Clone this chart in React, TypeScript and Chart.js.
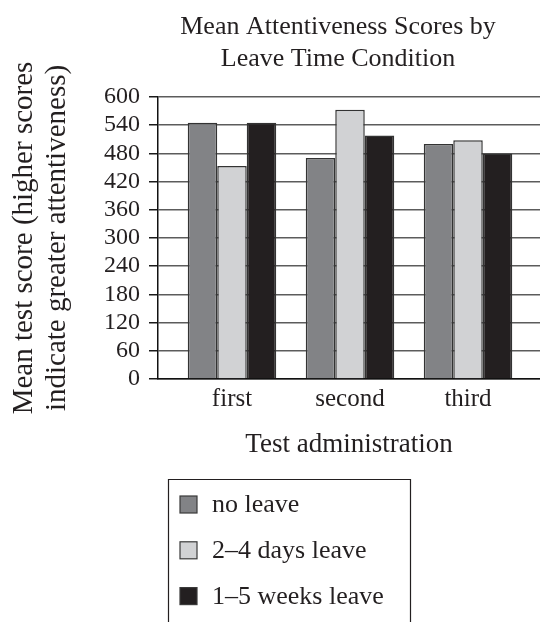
import { useEffect, useRef } from "react";
import { Chart, registerables } from "chart.js";

Chart.register(...registerables);

// ---- data ----
const categories = ["first", "second", "third"];
const seriesLabels = ["no leave", "2–4 days leave", "1–5 weeks leave"];
const noLeave = [545, 470, 500];
const days2to4 = [453, 573, 508];
const weeks1to5 = [545, 518, 480];
const yTickMin = 0;
const yTickMax = 600;
const yTickStep = 60;
const titleLines = ["Mean Attentiveness Scores by", "Leave Time Condition"];
const yTitleLines = ["Mean test score (higher scores", "indicate greater attentiveness)"];
const xTitle = "Test administration";

// ---- styles ----
const FONT = "'Liberation Serif', 'Times New Roman', serif";
const fills = ["#828386", "#d1d2d4", "#231f20"];
const TEXT = "#231f20";

// shift the title block so it is centred like the reference (slightly left of the plot centre)
const titleShift = {
  id: "titleShift",
  afterLayout(chart: any) {
    if (chart.titleBlock) chart.titleBlock.left = chart.chartArea.left - 22;
  },
};

const boxLegend = {
  id: "boxLegend",
  afterDraw(chart: any) {
    const { ctx } = chart;
    const left = 168.5;
    const top = 479.5;
    const right = 410.5;
    ctx.save();
    ctx.strokeStyle = "#231f20";
    ctx.lineWidth = 1.2;
    ctx.beginPath();
    ctx.moveTo(left, chart.height + 5);
    ctx.lineTo(left, top);
    ctx.lineTo(right, top);
    ctx.lineTo(right, chart.height + 5);
    ctx.stroke();
    ctx.font = `26px ${FONT}`;
    ctx.textBaseline = "middle";
    ctx.textAlign = "left";
    chart.data.datasets.forEach((ds: any, i: number) => {
      const cy = 504.5 + i * 45.8;
      ctx.fillStyle = ds.backgroundColor;
      ctx.fillRect(180, cy - 8.5, 17, 17);
      ctx.strokeStyle = "#3a3a3a";
      ctx.lineWidth = 1.2;
      ctx.strokeRect(180, cy - 8.5, 17, 17);
      ctx.fillStyle = TEXT;
      ctx.fillText(ds.label, 212, cy + 1);
    });
    ctx.restore();
  },
};

export default function App() {
  const ref = useRef<HTMLCanvasElement>(null);

  useEffect(() => {
    document.body.style.margin = "0";
    const series = [noLeave, days2to4, weeks1to5];
    const chart = new Chart(ref.current!, {
      type: "bar",
      data: {
        labels: categories,
        datasets: series.map((vals, s) => ({
          label: seriesLabels[s],
          data: vals.map((v, i) => ({ x: i, y: v })),
          backgroundColor: fills[s],
          borderColor: "#333333",
          borderWidth: 1.5,
          categoryPercentage: 0.75,
          barPercentage: 1,
        })),
      },
      options: {
        responsive: false,
        animation: false,
        events: [],
        layout: { padding: { left: 0, right: 0, top: 0, bottom: 143 } },
        font: { family: FONT },
        plugins: {
          legend: { display: false },
          tooltip: { enabled: false },
          title: {
            display: true,
            text: titleLines,
            color: TEXT,
            fullSize: false,
            font: { family: FONT, size: 26, weight: "normal", lineHeight: "32px" },
            padding: { top: 11, bottom: 22 },
          },
        },
        scales: {
          x: {
            type: "linear",
            offset: false,
            bounds: "data",
            min: -0.627,
            max: 2.61,
            afterBuildTicks: (s: any) => {
              s.ticks = categories.map((_, i) => ({ value: i }));
            },
            afterFit: (s: any) => {
              s.height = 100;
            },
            grid: { display: false, drawTicks: false, offset: false },
            border: { display: true, color: "#111111", width: 1.5 },
            ticks: {
              color: TEXT,
              padding: 5,
              font: { family: FONT, size: 25 },
              callback: (v: any) => categories[Math.round(Number(v))],
            },
            title: {
              display: true,
              text: xTitle,
              color: TEXT,
              font: { family: FONT, size: 27, lineHeight: "30px" },
              padding: { top: 0, bottom: 19 },
            },
          },
          y: {
            min: yTickMin,
            max: yTickMax,
            afterFit: (s: any) => {
              s.width = 158;
            },
            grid: {
              color: "#5c5c5c",
              lineWidth: 1.5,
              tickLength: 9,
              tickColor: "#1a1a1a",
            },
            border: { display: true, color: "#111111", width: 1.5 },
            ticks: {
              stepSize: yTickStep,
              autoSkip: false,
              color: TEXT,
              padding: 9,
              font: { family: FONT, size: 24 },
            },
            title: {
              display: true,
              text: yTitleLines,
              color: TEXT,
              font: { family: FONT, size: 29, lineHeight: "33px" },
              padding: { top: 8, bottom: 0 },
            },
          },
        },
      },
      plugins: [titleShift, boxLegend],
    });
    return () => chart.destroy();
  }, []);

  return (
    <div style={{ position: "absolute", left: 0, top: 0, width: 540, height: 622 }}>
      <canvas ref={ref} width={540} height={622} />
    </div>
  );
}
